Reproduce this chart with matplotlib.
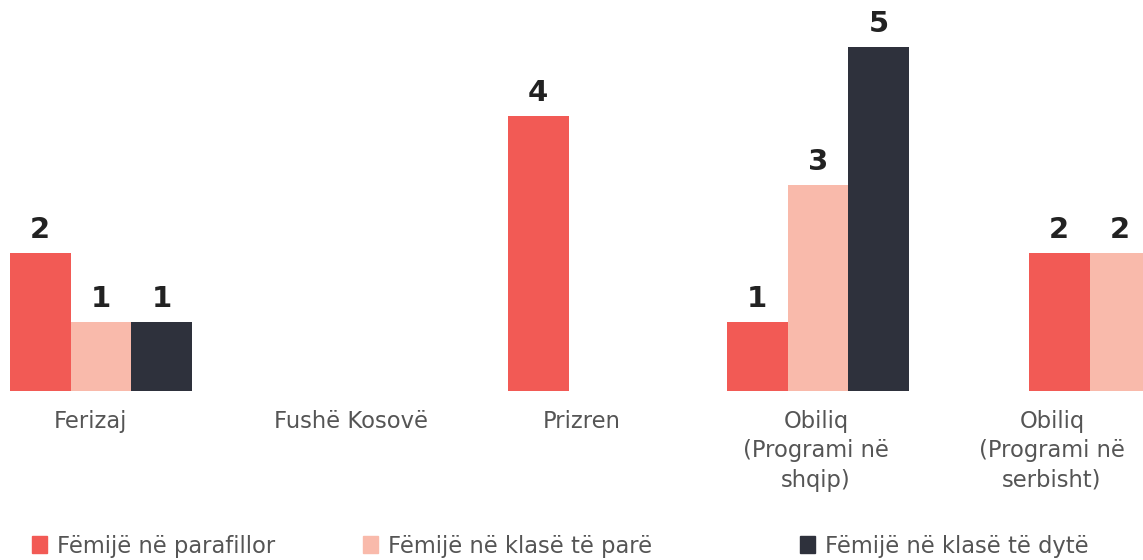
import matplotlib.pyplot as plt
from matplotlib.patches import Patch
from matplotlib.transforms import blended_transform_factory

categories = ["Ferizaj", "Fushë Kosovë", "Prizren",
              "Obiliq\n(Programi në\nshqip)", "Obiliq\n(Programi në\nserbisht)"]
series_names = ["Fëmijë në parafillor", "Fëmijë në klasë të parë", "Fëmijë në klasë të dytë"]
parafillor = [2, 0, 4, 1, 2]
klase_pare = [1, 0, 0, 3, 2]
klase_dyte = [1, 0, 0, 5, 0]

# layout (figure pixel units on the x axis)
group_left = [10, 260, 508, 727, 1029]
label_x = [90, 351, 582, 816, 1052]
legend_x = [32, 363, 800]
bar_w = 60.6
colors = ["#F25A55", "#F9BAAB", "#2E313C"]
FONT = ["DejaVu Sans"]

W, H = 1143, 560
fig = plt.figure(figsize=(W / 100, H / 100), dpi=100)
base_px = 391
unit_px = 68.8
ax = fig.add_axes([0, (H - base_px) / H, 1, base_px / H])
ax.set_xlim(0, W)
ax.set_ylim(0, base_px / unit_px)
ax.axis("off")

series = [parafillor, klase_pare, klase_dyte]
for i, left in enumerate(group_left):
    slot = 0
    for s, vals in enumerate(series):
        v = vals[i]
        if v == 0:
            continue
        x = left + slot * bar_w + bar_w / 2
        ax.bar(x, v, width=bar_w, color=colors[s], linewidth=0)
        ax.annotate(str(v), (x, v), xytext=(0, 9), textcoords="offset pixels",
                    ha="center", va="bottom", fontsize=21, fontweight="bold",
                    family="DejaVu Sans", color="#222222")
        slot += 1

trans = blended_transform_factory(ax.transData, fig.transFigure)
for x, lab in zip(label_x, categories):
    ax.text(x, 1 - 410 / H, lab, transform=trans, ha="center", va="top",
            fontsize=16.3, family=FONT, color="#555555",
            linespacing=1.36, clip_on=False)

for x, name, c in zip(legend_x, series_names, colors):
    fig.legend(handles=[Patch(color=c, label=name)], loc="center left",
               bbox_to_anchor=(x / W - 0.012, 1 - 546 / H), frameon=False,
               handlelength=0.65, handleheight=0.8, handletextpad=0.45,
               labelcolor="#555555", borderaxespad=0.2,
               prop={"family": FONT, "size": 16.3})

fig.savefig("out.png", dpi=100)
